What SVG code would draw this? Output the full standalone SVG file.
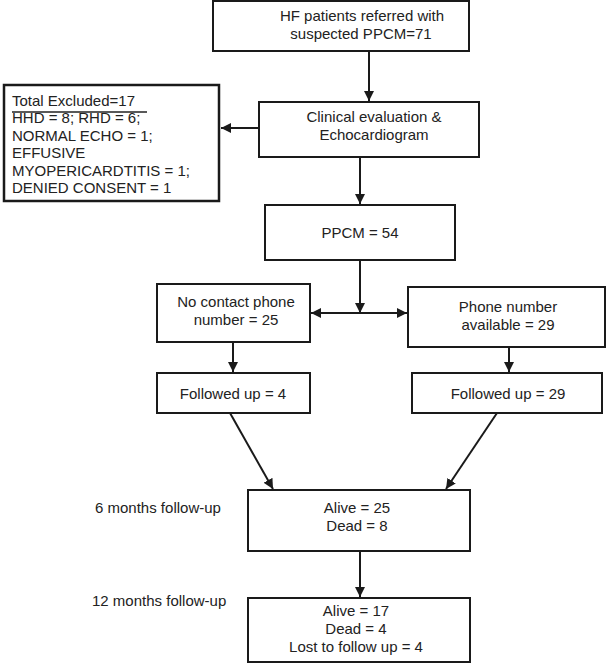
<svg xmlns="http://www.w3.org/2000/svg" width="607" height="663" viewBox="0 0 607 663">
<defs>
<marker id="ah" viewBox="0 0 10 10" refX="10" refY="5" markerWidth="10" markerHeight="10" markerUnits="userSpaceOnUse" orient="auto"><path d="M0,0 L10,5 L0,10 z" fill="#1a1a1a"/></marker>
</defs>
<style>
.box{fill:#fff;stroke:#1a1a1a;stroke-width:2}
.t{font-family:"Liberation Sans",Arial,sans-serif;font-size:15px;fill:#222;text-anchor:middle}
.l{font-family:"Liberation Sans",Arial,sans-serif;font-size:15px;fill:#222}
.c{stroke:#1a1a1a;stroke-width:2;fill:none;marker-end:url(#ah)}
</style>
<rect width="607" height="663" fill="#fff"/>
<g id="connectors">
<line class="c" x1="369" y1="52" x2="369" y2="101"/>
<line class="c" x1="259" y1="128" x2="221" y2="128"/>
<line class="c" x1="360" y1="157" x2="360" y2="204"/>
<line class="c" x1="360" y1="260" x2="360" y2="313"/>
<line class="c" x1="360" y1="313" x2="311" y2="313"/>
<line class="c" x1="360" y1="313" x2="407" y2="313"/>
<line class="c" x1="233" y1="342" x2="233" y2="372"/>
<line class="c" x1="509" y1="347" x2="509" y2="372"/>
<line class="c" x1="230" y1="413" x2="273" y2="489"/>
<line class="c" x1="497" y1="413" x2="446" y2="489"/>
<line class="c" x1="360" y1="551" x2="360" y2="597"/>
</g>
<g id="top"><rect class="box" x="213" y="1" width="256" height="50"/><text class="t" x="362" y="21">HF patients referred with</text><text class="t" x="361" y="39">suspected PPCM=71</text></g>
<g id="excluded"><rect class="box" x="4" y="85" width="215" height="116" style="stroke-width:2.5"/>
<text class="l" x="12" y="106">Total Excluded=17</text>
<line x1="12" y1="112" x2="147" y2="112" stroke="#222" stroke-width="1.5"/>
<text class="l" x="12" y="123">HHD = 8; RHD = 6;</text>
<text class="l" x="12" y="141">NORMAL ECHO = 1;</text>
<text class="l" x="12" y="158">EFFUSIVE</text>
<text class="l" x="12" y="176">MYOPERICARDTITIS = 1;</text>
<text class="l" x="12" y="193">DENIED CONSENT = 1</text></g>
<g id="clinical"><rect class="box" x="259" y="102" width="220" height="55"/><text class="t" x="374" y="122">Clinical evaluation &amp;</text><text class="t" x="374" y="140">Echocardiogram</text></g>
<g id="ppcm"><rect class="box" x="265" y="205" width="190" height="55"/><text class="t" x="360" y="238">PPCM = 54</text></g>
<g id="nocontact"><rect class="box" x="157" y="284" width="153" height="58"/><text class="t" x="236" y="307">No contact phone</text><text class="t" x="236" y="325">number = 25</text></g>
<g id="phone"><rect class="box" x="408" y="287" width="197" height="60"/><text class="t" x="508" y="312">Phone number</text><text class="t" x="508" y="330">available = 29</text></g>
<g id="fu4"><rect class="box" x="157" y="373" width="153" height="40"/><text class="t" x="233" y="399">Followed up = 4</text></g>
<g id="fu29"><rect class="box" x="412" y="373" width="190" height="40"/><text class="t" x="508" y="399">Followed up = 29</text></g>
<g id="six"><rect class="box" x="248" y="490" width="222" height="61"/><text class="t" x="357" y="513">Alive = 25</text><text class="t" x="357" y="531">Dead = 8</text></g>
<g id="twelve"><rect class="box" x="248" y="598" width="222" height="64"/><text class="t" x="356" y="616">Alive = 17</text><text class="t" x="356" y="634">Dead = 4</text><text class="t" x="356" y="652">Lost to follow up = 4</text></g>
<g id="labels"><text class="l" x="95" y="513">6 months follow-up</text><text class="l" x="92" y="606">12 months follow-up</text></g>
</svg>
